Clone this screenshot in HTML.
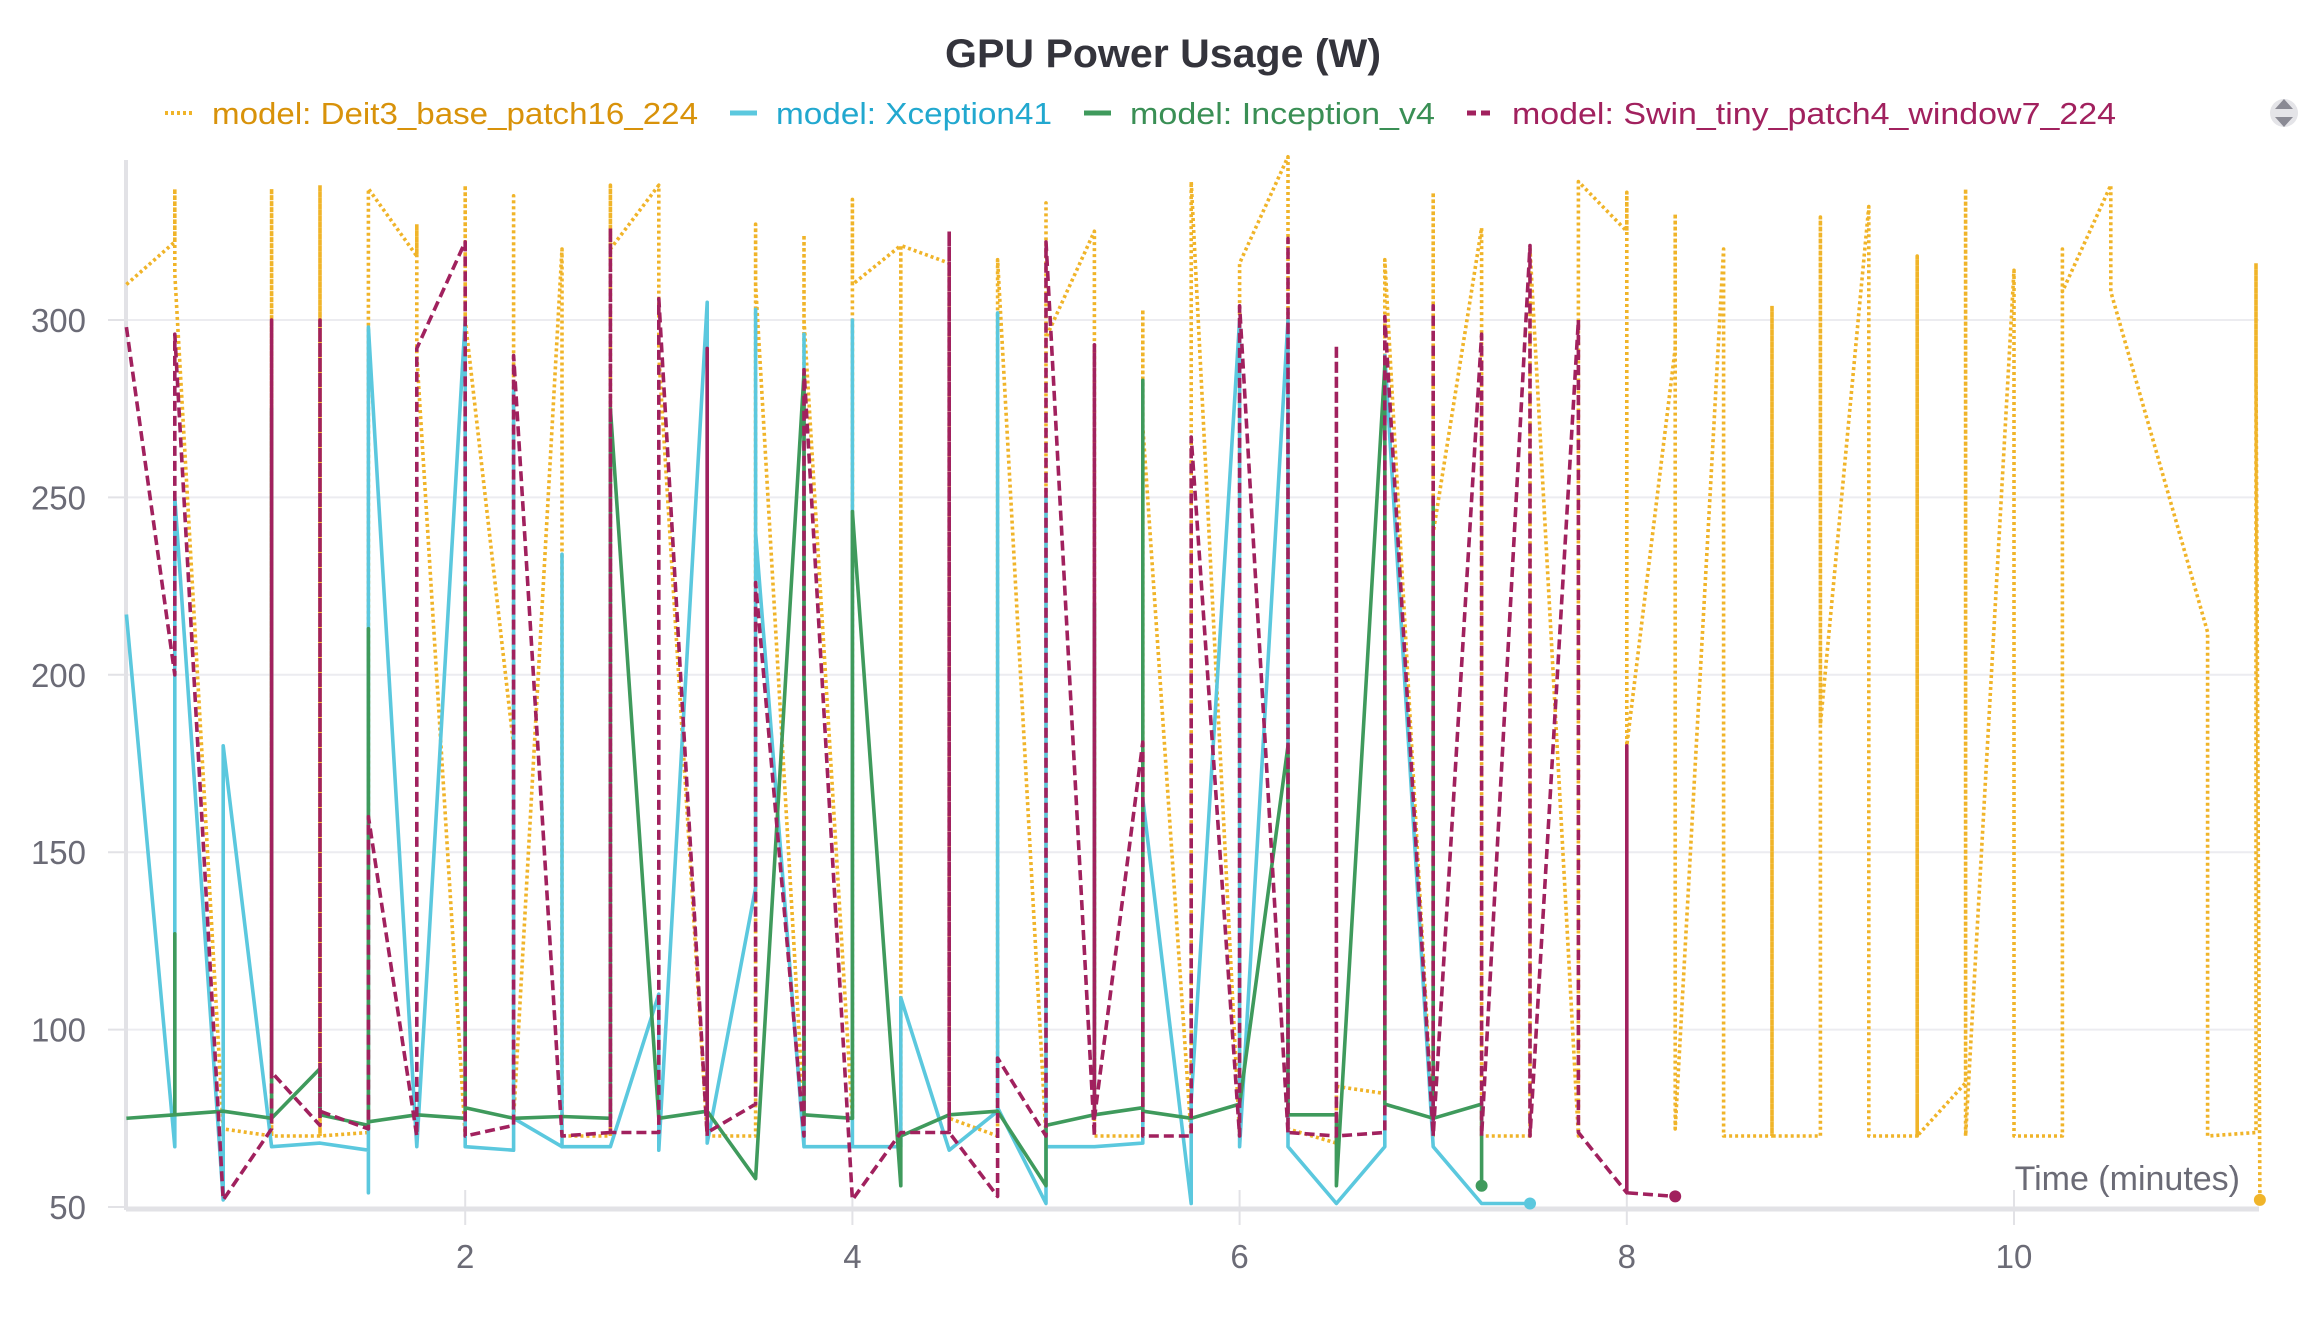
<!DOCTYPE html>
<html><head><meta charset="utf-8"><title>GPU Power Usage (W)</title>
<style>
html,body{margin:0;padding:0;background:#fff;}
svg{display:block;font-family:"Liberation Sans",sans-serif;}
</style></head>
<body>
<svg id="chart" width="2318" height="1340" viewBox="0 0 2318 1340" xmlns="http://www.w3.org/2000/svg">
  <text x="1163" y="67" text-anchor="middle" font-size="40" font-weight="bold" fill="#34343c" textLength="436" lengthAdjust="spacingAndGlyphs">GPU Power Usage (W)</text>
  <g>
    <g>
      <line x1="165" y1="113" x2="192" y2="113" stroke="#f0b429" stroke-width="4" stroke-dasharray="3,3"/>
      <text x="212" y="124" font-size="31" fill="#d8920a" textLength="486" lengthAdjust="spacingAndGlyphs">model: Deit3_base_patch16_224</text>
    </g>
    <g>
      <line x1="730" y1="113" x2="757" y2="113" stroke="#5bc8de" stroke-width="5"/>
      <text x="776" y="124" font-size="31" fill="#22a8cf" textLength="276" lengthAdjust="spacingAndGlyphs">model: Xception41</text>
    </g>
    <g>
      <line x1="1084" y1="113" x2="1111" y2="113" stroke="#3f9a5c" stroke-width="5"/>
      <text x="1130" y="124" font-size="31" fill="#3a8f55" textLength="305" lengthAdjust="spacingAndGlyphs">model: Inception_v4</text>
    </g>
    <g>
      <line x1="1467" y1="113" x2="1494" y2="113" stroke="#a1215e" stroke-width="5" stroke-dasharray="9,5"/>
      <text x="1512" y="124" font-size="31" fill="#a1215e" textLength="604" lengthAdjust="spacingAndGlyphs">model: Swin_tiny_patch4_window7_224</text>
    </g>
  </g>
  <g>
    <circle cx="2284" cy="113" r="14" fill="#e4e4e8"/>
    <path d="M2275 109 L2284 99 L2293 109 Z" fill="#8a8a94"/>
    <path d="M2275 117 L2284 127 L2293 117 Z" fill="#8a8a94"/>
  </g>
  <g id="grid"></g>
  <g id="axes"></g>
  <g id="series"></g>
  <text x="2240" y="1190" text-anchor="end" font-size="34" fill="#6b6b76">Time (minutes)</text>
</svg>
<script>
const yTicks = [50, 100, 150, 200, 250, 300];
const xTicks = [2, 4, 6, 8, 10];
const deitT = [0.25,0.5,0.5,0.5,0.75,1,1,1,1.25,1.25,1.25,1.5,1.5,1.75,1.75,1.75,2,2,2,2.25,2.25,2.25,2.5,2.5,2.75,2.75,2.75,3,3,3.25,3.5,3.5,3.5,3.75,3.75,3.75,4,4,4,4.25,4.25,4.25,4.5,4.5,4.75,4.75,5,5,5,5.25,5.25,5.5,5.5,5.5,5.75,5.75,6,6,6.25,6.25,6.5,6.5,6.75,6.75,7,7,7,7.25,7.25,7.5,7.5,7.75,7.75,8,8,8,8.25,8.25,8.25,8.5,8.5,8.75,8.75,8.75,9,9,9,9.25,9.25,9.5,9.5,9.5,9.75,9.75,9.75,10,10,10.25,10.25,10.25,10.5,10.5,11,11,11.25,11.25,11.25,11.27];
const deitV = [310,322,337,313,72,70,337,70,70,338,70,71,337,318,327,290,70,338,300,180,335,75,320,70,70,338,320,338,290,70,70,327,310,75,324,300,75,334,310,321,70,321,316,75,70,317,70,333,295,325,70,70,303,270,70,339,70,316,346,72,68,84,82,317,70,336,240,326,70,70,320,70,339,325,336,180,292,330,72,320,70,70,304,70,70,329,186,332,70,70,318,70,85,337,70,314,70,70,320,308,338,308,212,70,71,316,288,52];
const xcepT = [0.25,0.5,0.5,0.75,0.75,1,1.25,1.5,1.5,1.5,1.75,1.75,2,2,2.25,2.25,2.25,2.5,2.5,2.5,2.75,3,3,3.25,3.25,3.5,3.5,3.5,3.75,3.75,3.75,4,4,4,4.25,4.25,4.5,4.75,4.75,4.75,5,5,5,5.25,5.5,5.5,5.75,5.75,6,6,6.25,6.25,6.5,6.75,6.75,7,7.25,7.5];
const xcepV = [217,67,250,52,180,67,68,66,54,298,67,67,300,67,66,280,75,67,234,67,67,110,66,305,68,140,303,240,67,296,67,67,300,67,67,109,66,77,302,78,51,250,67,67,68,165,51,80,300,67,300,67,51,67,290,67,51,51];
const incT = [0.25,0.5,0.5,0.5,0.75,1,1,1,1.25,1.25,1.5,1.5,1.5,1.75,2,2,2,2.25,2.5,2.75,2.75,3,3.25,3.5,3.75,3.75,4,4,4.25,4.25,4.5,4.75,5,5,5.25,5.25,5.25,5.5,5.5,5.5,5.75,6,6.25,6.25,6.5,6.5,6.75,6.75,7,7,7,7.25,7.25];
const incV = [75,76,127,76,77,75,275,75,89,76,73,213,74,76,75,225,78,75,75.5,75,275,75,77,58,285,76,75,246,56,70,76,77,56,73,76,220,76,78,283,77,75,79,180,76,76,56,287,79,75,250,75,79,56];
const swinT = [0.25,0.5,0.5,0.75,1,1,1,1.25,1.25,1.25,1.5,1.5,1.75,1.75,2,2,2.25,2.25,2.5,2.75,2.75,2.75,3,3,3.25,3.25,3.25,3.5,3.5,3.75,3.75,4,4.25,4.5,4.5,4.5,4.75,4.75,5,5,5.25,5.25,5.25,5.5,5.5,5.75,5.75,6,6,6.25,6.25,6.25,6.5,6.5,6.5,6.75,6.75,7,7,7,7.25,7.25,7.5,7.5,7.75,7.75,8,8,8,8.25];
const swinV = [298,200,296,52,72,300,88,73,300,77,72,160,70,292,322,70,73,290,70,71,326,71,71,306,70,292,71,79,226,70,286,52,71,71,325,71,53,92,70,322,70,293,75,181,70,70,267,70,304,71,323,71,70,293,70,71,301,70,304,70,296,70,321,70,300,71,54,180,54,53];

const NS = 'http://www.w3.org/2000/svg';
const X0 = 126, X1 = 2259, Y0 = 1207, YTOP = 160;
function xs(t){ return 78 + t * 193.6; }
function ys(v){ return 1207 - (v - 50) * 3.548; }
function mk(tag, attrs, parent){
  const e = document.createElementNS(NS, tag);
  for (const k in attrs) e.setAttribute(k, attrs[k]);
  parent.appendChild(e); return e;
}
const grid = document.getElementById('grid');
const axes = document.getElementById('axes');
const series = document.getElementById('series');

yTicks.forEach(v => {
  if (v > 50) {
    const gl = mk('line', {x1: X0, x2: X1, y1: ys(v), y2: ys(v), stroke: '#ececf0', 'stroke-width': 2}, grid);
    
    
  }
  const tk = mk('line', {x1: 108, x2: X0, y1: ys(v), y2: ys(v), stroke: '#e2e2e6', 'stroke-width': 2}, axes);
  
  
  const lb = mk('text', {x: 86, y: ys(v) + 12, 'text-anchor': 'end', 'font-size': 33, fill: '#6b6b76'}, axes);
  lb.textContent = v;
  
  
});
xTicks.forEach(t => {
  const tk = mk('line', {x1: xs(t), x2: xs(t), y1: 1190, y2: 1225, stroke: '#e2e2e6', 'stroke-width': 2}, axes);
  
  
  const lb = mk('text', {x: xs(t), y: 1268, 'text-anchor': 'middle', 'font-size': 33, fill: '#6b6b76'}, axes);
  lb.textContent = t;
  
  
});
const ya = mk('line', {x1: X0, x2: X0, y1: YTOP, y2: Y0 + 3, stroke: '#e2e2e6', 'stroke-width': 4}, axes);


const xa = mk('line', {x1: X0, x2: X1, y1: Y0 + 2, y2: Y0 + 2, stroke: '#e2e2e6', 'stroke-width': 5}, axes);



function draw(T, V, color, dash, name){
  let d = '';
  for (let i = 0; i < T.length; i++) d += (i ? 'L' : 'M') + xs(T[i]).toFixed(1) + ' ' + ys(V[i]).toFixed(1);
  const p = mk('path', {d: d, fill: 'none', stroke: color, 'stroke-width': 3.6, 'stroke-linejoin': 'round'}, series);
  if (dash) p.setAttribute('stroke-dasharray', dash);
  
  
  const n = T.length - 1;
  const c = mk('circle', {cx: xs(T[n]), cy: ys(V[n]), r: 6, fill: color}, series);
  
  
}
draw(deitT, deitV, '#f0b429', '3,3', 'deit3-series');
draw(xcepT, xcepV, '#5bc8de', null, 'xception41-series');
draw(incT, incV, '#3f9a5c', null, 'inception-v4-series');
draw(swinT, swinV, '#a1215e', '10,5', 'swin-tiny-series');
</script>
</body></html>
